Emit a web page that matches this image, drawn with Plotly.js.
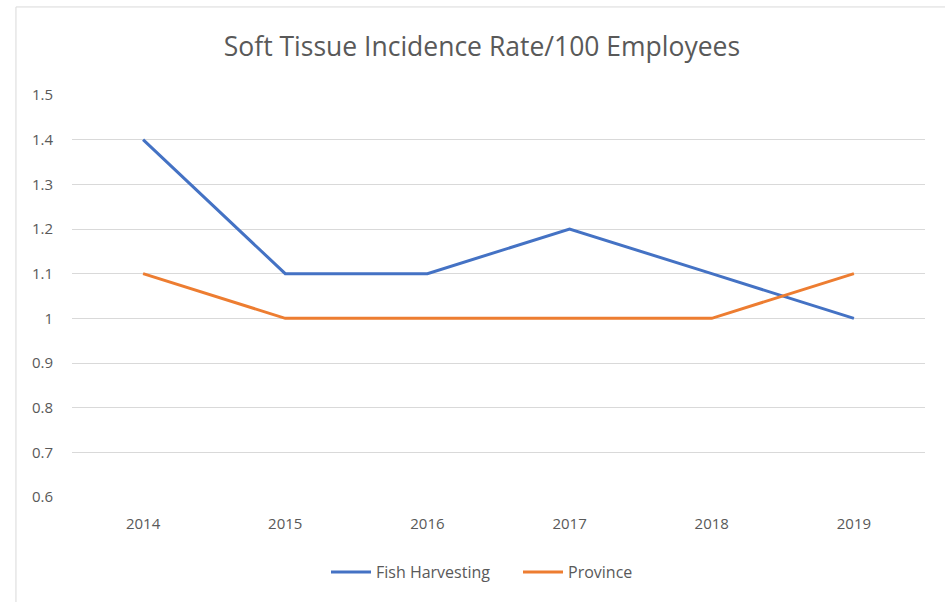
<!DOCTYPE html>
<html>
<head>
<meta charset="utf-8">
<script src="https://cdn.plot.ly/plotly-3.0.1.min.js"></script>
<style>html,body{margin:0;padding:0;background:#fff}#chart{width:945px;height:602px}</style>
</head>
<body>
<div id="chart"></div>
<script>
const years = ['2014', '2015', '2016', '2017', '2018', '2019'];
const fishHarvesting = [1.4, 1.1, 1.1, 1.2, 1.1, 1.0];
const province = [1.1, 1.0, 1.0, 1.0, 1.0, 1.1];
const yTicks = [0.6, 0.7, 0.8, 0.9, 1, 1.1, 1.2, 1.3, 1.4, 1.5];
const yTickText = ['0.6', '0.7', '0.8', '0.9', '1', '1.1', '1.2', '1.3', '1.4', '1.5'];

const font = '"Open Sans", "Noto Sans", sans-serif';
const traces = [
  {x: years, y: fishHarvesting, name: 'Fish Harvesting', type: 'scatter', mode: 'lines',
   line: {color: '#4472C4', width: 3}},
  {x: years, y: province, name: 'Province', type: 'scatter', mode: 'lines',
   line: {color: '#ED7D31', width: 3}}
];
const layout = {
  width: 945, height: 602,
  margin: {l: 72, r: 20, t: 95, b: 105},
  paper_bgcolor: '#fff', plot_bgcolor: '#fff',
  title: {text: 'Soft Tissue Incidence Rate/100 Employees', x: 0.51, xanchor: 'center', y: 0.922, yanchor: 'middle',
          font: {family: font, size: 26.5, color: '#595959'}},
  xaxis: {type: 'category', range: [-0.5, 5.5], showgrid: false, zeroline: false, showline: false,
          ticks: '', ticklabelstandoff: 16, tickfont: {family: font, size: 15, color: '#595959'}},
  yaxis: {range: [0.6, 1.5], tickvals: yTicks, ticktext: yTickText, showgrid: true, gridcolor: '#D9D9D9',
          gridwidth: 1, zeroline: false, showline: false, ticks: '', ticklabelstandoff: 18,
          tickfont: {family: font, size: 15, color: '#595959'}},
  showlegend: true,
  legend: {orientation: 'h', x: 0.0, xanchor: 'left', y: -0.187, yanchor: 'middle',
           font: {family: font, size: 16, color: '#595959'}, itemwidth: 40, entrywidth: 137,
           traceorder: 'normal'},
  shapes: [
    {type: 'line', xref: 'paper', yref: 'paper', x0: -0.0657, x1: 1.03, y0: 1.219, y1: 1.219, line: {color: '#D9D9D9', width: 1}},
    {type: 'line', xref: 'paper', yref: 'paper', x0: -0.0657, x1: -0.0657, y0: 1.219, y1: -0.3, line: {color: '#D9D9D9', width: 1}}
  ]
};
// place legend so that its first line starts where the reference's does
layout.legend.x = (331 - 72 - 5) / (945 - 72 - 20);
Plotly.newPlot('chart', traces, layout, {displayModeBar: false, staticPlot: true});
</script>
</body>
</html>
